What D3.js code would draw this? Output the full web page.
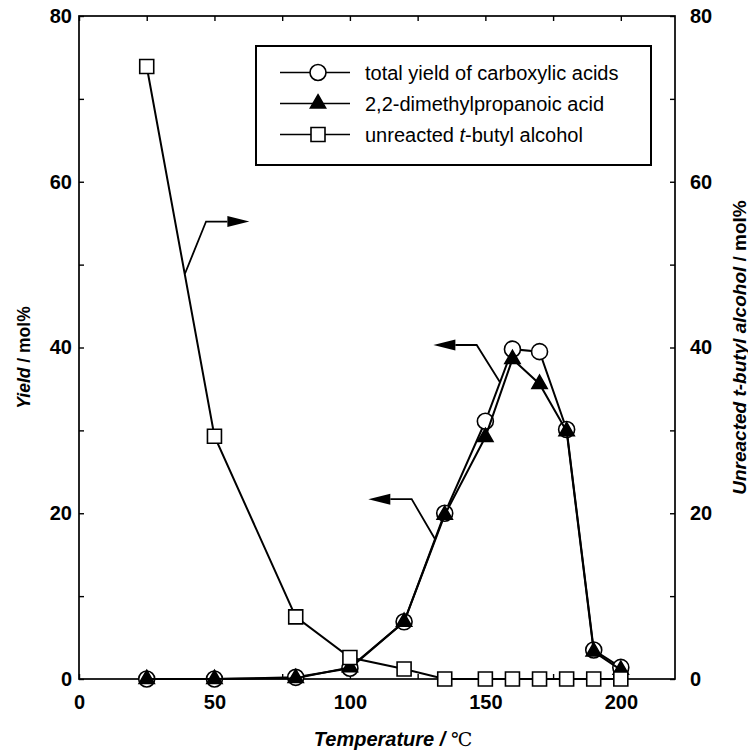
<!DOCTYPE html>
<html>
<head>
<meta charset="utf-8">
<script src="https://cdn.jsdelivr.net/npm/d3@7"></script>
<style>
  body { margin: 0; background: #fff; }
  svg { font-family: "Liberation Sans", Arial, sans-serif; }
</style>
</head>
<body>
<div id="chart"></div>
<script>
const temperatures = [25, 50, 80, 100, 120, 135, 150, 160, 170, 180, 190, 200]
const totalYield = [0, 0, 0.2, 1.3, 6.9, 20.0, 31.1, 39.8, 39.5, 30.1, 3.5, 1.4]
const dmpaYield = [0, 0, 0.1, 1.4, 6.9, 19.8, 29.2, 38.6, 35.6, 29.9, 3.3, 1.1]
const unreactedAlcohol = [73.9, 29.3, 7.5, 2.6, 1.2, 0, 0, 0, 0, 0, 0, 0]

const xTicks = [0, 25, 50, 75, 100, 125, 150, 175, 200]
const yTicks = [0, 10, 20, 30, 40, 50, 60, 70, 80]
const legendLabels = ["total yield of carboxylic acids", "2,2-dimethylpropanoic acid", "unreacted t-butyl alcohol"]

// arrows telling which axis a curve belongs to, in data units: start on curve, elbow, tip
const arrows = [
  { start: [39.1, 48.9], elbow: [46.9, 55.2], tip: [62.9, 55.2] },
  { start: [155.4, 35.8], elbow: [146.8, 40.3], tip: [130.8, 40.3] },
  { start: [131.4, 16.9], elbow: [122.8, 21.7], tip: [106.8, 21.7] }
]

const MARGIN = { TOP: 16, BOTTOM: 72, LEFT: 79, RIGHT: 73 }
const WIDTH = 748 - MARGIN.LEFT - MARGIN.RIGHT
const HEIGHT = 751 - MARGIN.TOP - MARGIN.BOTTOM
const TICK = 5

const svg = d3.select("#chart")
              .append("svg")
              .attr("width", 748)
              .attr("height", 751)

const g = svg.append("g")
             .attr("transform", `translate(${MARGIN.LEFT}, ${MARGIN.TOP})`)

const x = d3.scaleLinear()
            .domain([0, 220])
            .range([0, WIDTH])

const yLeft = d3.scaleLinear()
                .domain([0, 80])
                .range([HEIGHT, 0])

const yRight = d3.scaleLinear()
                 .domain([0, 80])
                 .range([HEIGHT, 0])

const xLabel = d => (d % 50 === 0 ? d : "")
const yLabel = d => (d % 20 === 0 ? d : "")

// axes, ticks pointing inward
g.append("g")
 .attr("transform", `translate(0, ${HEIGHT})`)
 .call(d3.axisBottom(x).tickValues(xTicks).tickFormat(xLabel)
         .tickSizeInner(-TICK).tickSizeOuter(0).tickPadding(15.5))

g.append("g")
 .call(d3.axisTop(x).tickValues(xTicks).tickFormat("")
         .tickSizeInner(-TICK).tickSizeOuter(0))

g.append("g")
 .call(d3.axisLeft(yLeft).tickValues(yTicks).tickFormat(yLabel)
         .tickSizeInner(-TICK).tickSizeOuter(0).tickPadding(7))

g.append("g")
 .attr("transform", `translate(${WIDTH}, 0)`)
 .call(d3.axisRight(yRight).tickValues(yTicks).tickFormat(yLabel)
         .tickSizeInner(-TICK).tickSizeOuter(0).tickPadding(15))

g.selectAll(".domain").remove()
g.selectAll(".tick line")
 .attr("stroke", "#000")
 .attr("stroke-width", 1.4)
g.selectAll(".tick text")
 .attr("font-size", 20)
 .attr("font-weight", "bold")
 .attr("fill", "#000")
 .attr("font-family", "Liberation Sans, Arial, sans-serif")

g.append("rect")
 .attr("width", WIDTH)
 .attr("height", HEIGHT)
 .attr("fill", "none")
 .attr("stroke", "#000")
 .attr("stroke-width", 1.7)

// axis titles
const xTitle = svg.append("text")
                  .attr("x", MARGIN.LEFT + WIDTH / 2 + 16)
                  .attr("y", 746)
                  .attr("text-anchor", "middle")
                  .attr("font-size", 20)
xTitle.append("tspan")
      .attr("font-weight", "bold")
      .attr("font-style", "italic")
      .text("Temperature / ")
xTitle.append("tspan")
      .attr("font-family", "DejaVu Serif, serif")
      .attr("font-size", 19)
      .text("℃")

const yTitle = svg.append("text")
                  .attr("transform", `translate(24, ${MARGIN.TOP + HEIGHT / 2 + 10}) rotate(-90)`)
                  .attr("text-anchor", "middle")
                  .attr("dominant-baseline", "central")
                  .attr("font-size", 17.5)
                  .attr("font-weight", "bold")
yTitle.append("tspan")
      .attr("font-style", "italic")
      .text("Yield")
yTitle.append("tspan")
      .text(" / mol%")

const y2Title = svg.append("text")
                   .attr("transform", `translate(739, ${MARGIN.TOP + HEIGHT / 2}) rotate(-90)`)
                   .attr("text-anchor", "middle")
                   .attr("dominant-baseline", "central")
                   .attr("font-size", 19)
                   .attr("font-weight", "bold")
y2Title.append("tspan")
       .attr("font-style", "italic")
       .text("Unreacted t-butyl alcohol")
y2Title.append("tspan")
       .text(" / mol%")

// series
const series = [
  { values: totalYield, y: yLeft, symbol: d3.symbolCircle, size: 201, fill: "#fff" },
  { values: dmpaYield, y: yLeft, symbol: d3.symbolTriangle, size: 100, fill: "#000" },
  { values: unreactedAlcohol, y: yRight, symbol: d3.symbolSquare, size: 196, fill: "#fff" }
]

series.forEach(s => {
  const points = temperatures.map((t, i) => [x(t), s.y(s.values[i])])

  g.append("path")
   .attr("d", d3.line()(points))
   .attr("fill", "none")
   .attr("stroke", "#000")
   .attr("stroke-width", 2)

  g.selectAll(null)
   .data(points)
   .enter()
   .append("path")
   .attr("transform", d => `translate(${d[0]}, ${d[1]})`)
   .attr("d", d3.symbol().type(s.symbol).size(s.size))
   .attr("fill", s.fill)
   .attr("stroke", "#000")
   .attr("stroke-width", 1.6)
})

// arrows
arrows.forEach(a => {
  const p0 = [x(a.start[0]), yLeft(a.start[1])]
  const p1 = [x(a.elbow[0]), yLeft(a.elbow[1])]
  const tip = [x(a.tip[0]), yLeft(a.tip[1])]
  const dir = Math.sign(tip[0] - p1[0])
  const base = tip[0] - dir * 22

  g.append("path")
   .attr("d", d3.line()([p0, p1, [base, tip[1]]]))
   .attr("fill", "none")
   .attr("stroke", "#000")
   .attr("stroke-width", 1.8)

  g.append("path")
   .attr("d", d3.line()([tip, [base, tip[1] - 5.5], [base, tip[1] + 5.5]]) + "Z")
   .attr("fill", "#000")
})

// legend
const legend = svg.append("g")
legend.append("rect")
      .attr("x", 256)
      .attr("y", 46)
      .attr("width", 395)
      .attr("height", 119)
      .attr("fill", "#fff")
      .attr("stroke", "#000")
      .attr("stroke-width", 2)

legendLabels.forEach((label, i) => {
  const ly = 72.5 + i * 31
  legend.append("line")
        .attr("x1", 280)
        .attr("x2", 350)
        .attr("y1", ly)
        .attr("y2", ly)
        .attr("stroke", "#000")
        .attr("stroke-width", 1.5)
  legend.append("path")
        .attr("transform", `translate(318, ${ly})`)
        .attr("d", d3.symbol().type(series[i].symbol).size(series[i].size))
        .attr("fill", series[i].fill)
        .attr("stroke", "#000")
        .attr("stroke-width", 1.6)
  const t = legend.append("text")
                  .attr("x", 365)
                  .attr("y", ly)
                  .attr("dominant-baseline", "central")
                  .attr("font-size", 20)
  if (label.includes("t-butyl")) {
    t.append("tspan").text("unreacted ")
    t.append("tspan").attr("font-style", "italic").text("t")
    t.append("tspan").text("-butyl alcohol")
  } else {
    t.text(label)
  }
})
</script>
</body>
</html>
